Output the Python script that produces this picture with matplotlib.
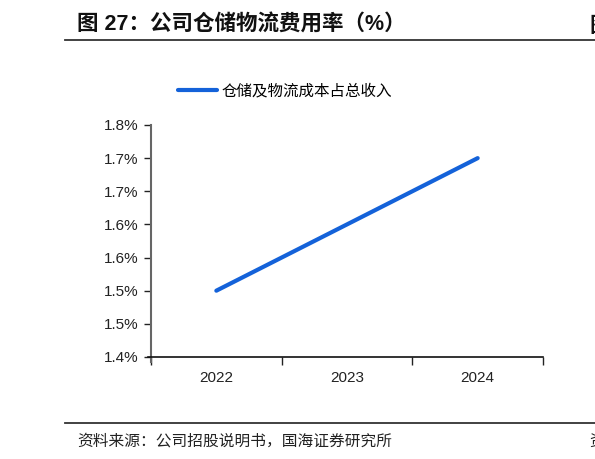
import matplotlib
matplotlib.use("Agg")
import matplotlib.pyplot as plt
from matplotlib.lines import Line2D

plt.rcParams['font.family'] = ['Liberation Sans', 'Noto Sans CJK SC', 'DejaVu Sans']

# data
years = ["2022", "2023", "2024"]
cost_ratio = [1.50, 1.60, 1.70]
y_ticks = [1.40, 1.45, 1.50, 1.55, 1.60, 1.65, 1.70, 1.75]
y_tick_labels = ["1.4%", "1.5%", "1.5%", "1.6%", "1.6%", "1.7%", "1.7%", "1.8%"]
series_name = "仓储及物流成本占总收入"
title = "图 27：公司仓储物流费用率（%）"
source = "资料来源：公司招股说明书，国海证券研究所"

W, H = 595, 459
fig = plt.figure(figsize=(W / 100, H / 100), dpi=100)

def fx(px):
    return px / W

def fy(py):
    return 1 - py / H

ax = fig.add_axes([fx(151), fy(362), fx(543) - fx(151), fy(125) - fy(362)])

x = list(range(len(years)))
line_color = "#1462D9"
ax.plot(x, cost_ratio, color=line_color, lw=3.0, solid_capstyle="round", zorder=3)

ax.set_xlim(-0.5, len(years) - 0.5)
ax.set_ylim(1.40 - 0.0076, 1.75)
ax.set_yticks(y_ticks)
ax.set_yticklabels(y_tick_labels)

# category boundaries as major ticks, labels on minor ticks
ax.set_xticks([i - 0.5 for i in range(len(years) + 1)])
ax.set_xticklabels([])
ax.set_xticks(x, minor=True)
ax.set_xticklabels(years, minor=True)
ax.tick_params(axis="x", which="major", direction="out", length=6, width=1, color="#222222")
ax.tick_params(axis="x", which="minor", length=0, pad=10, labelsize=11, labelcolor="#222222")
ax.tick_params(axis="y", direction="out", length=5, width=1, color="#222222",
               labelsize=11, labelcolor="#222222", pad=4)

for s in ["top", "right"]:
    ax.spines[s].set_visible(False)
ax.spines["left"].set_color("#666666")
ax.spines["left"].set_linewidth(1.5)
ax.spines["bottom"].set_position(("data", 1.40))
ax.spines["bottom"].set_color("#111111")
ax.spines["bottom"].set_linewidth(1.2)
ax.spines["bottom"].set_bounds(-0.5 - 0.02, len(years) - 0.5)

# legend
handle = Line2D([0], [0], color=line_color, lw=3.0, solid_capstyle="round")
fig.legend([handle], [series_name], loc="center", bbox_to_anchor=(fx(285), fy(91)),
           frameon=False, handlelength=2.5, handletextpad=0.3,
           prop={"family": ["Noto Sans CJK SC"], "size": 11.2})

# title and rules
fig.text(fx(77), fy(25), title, fontsize=15.5, fontweight="bold", va="center", ha="left",
         family=["Liberation Sans", "Noto Sans CJK SC"], color="#111111")
fig.text(fx(589), fy(25), "图", fontsize=15.5, fontweight="bold", va="center", ha="left",
         family=["Noto Sans CJK SC"], color="#111111")
fig.add_artist(Line2D([fx(65), 1.0], [fy(40), fy(40)], color="#333333", lw=1.3,
                      transform=fig.transFigure))
fig.add_artist(Line2D([fx(65), 1.0], [fy(423), fy(423)], color="#333333", lw=1.3,
                      transform=fig.transFigure))
fig.text(fx(77), fy(441), source, fontsize=11.3, va="center", ha="left",
         family=["Noto Sans CJK SC"], color="#222222")
fig.text(fx(589), fy(441), "资", fontsize=11.3, va="center", ha="left",
         family=["Noto Sans CJK SC"], color="#222222")

fig.savefig("out.png", dpi=100)
